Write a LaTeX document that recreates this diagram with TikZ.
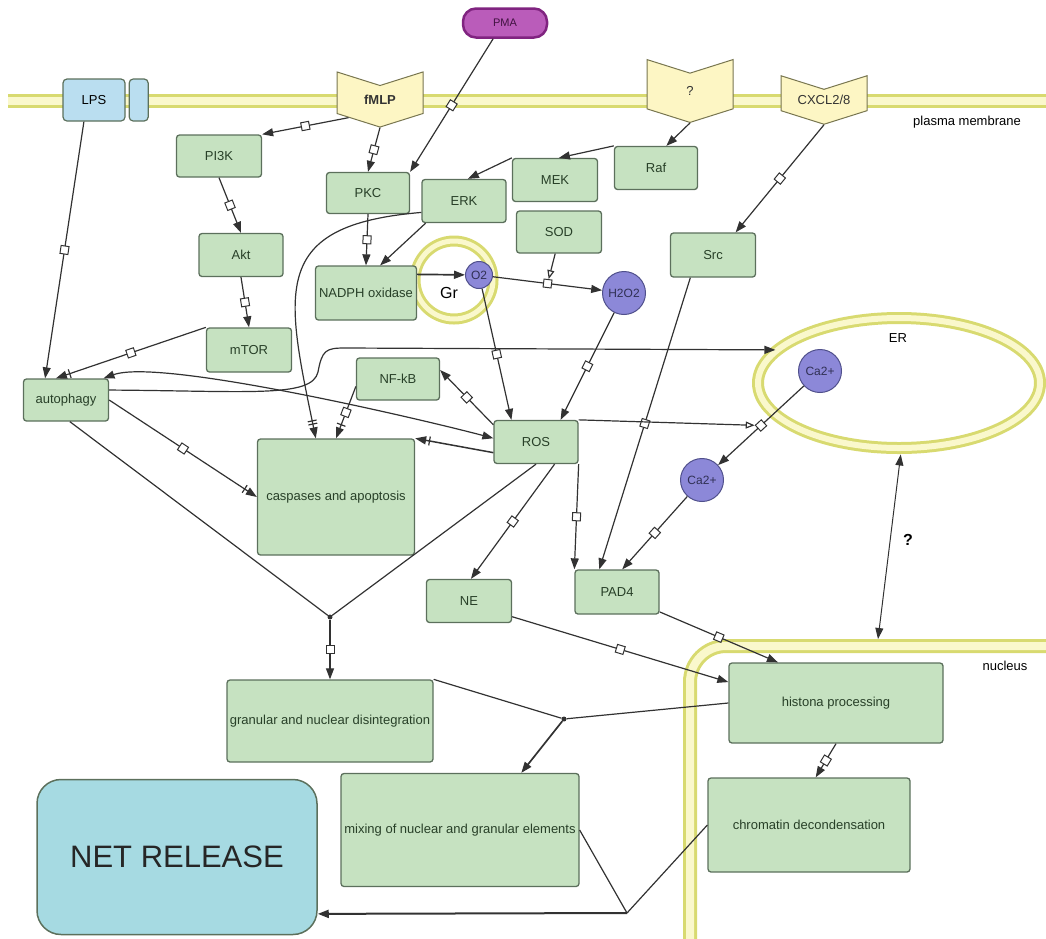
\documentclass[tikz,border=0pt]{standalone}
\usepackage{fontspec}
\setmainfont{Liberation Sans}
\usepackage{tikz}
\usetikzlibrary{positioning,arrows.meta,shapes.geometric,shapes.symbols}
\definecolor{boxgreen}{RGB}{198,226,193}
\definecolor{boxedge}{RGB}{92,112,92}
\definecolor{txtgreen}{RGB}{40,64,40}
\definecolor{ionblue}{RGB}{140,136,216}
\definecolor{ionedge}{RGB}{80,80,140}
\definecolor{rcpfill}{RGB}{253,246,196}
\definecolor{rcpedge}{RGB}{120,118,80}
\definecolor{lpsblue}{RGB}{186,222,240}
\definecolor{pmafill}{RGB}{186,92,186}
\definecolor{pmaedge}{RGB}{128,36,128}
\definecolor{netblue}{RGB}{166,218,226}
\definecolor{memedge}{RGB}{216,218,112}
\definecolor{memfill}{RGB}{250,248,204}
\definecolor{linegray}{RGB}{50,50,50}

\begin{document}
\begin{tikzpicture}[x=1pt, y=-1pt, font=\fontsize{13}{15}\selectfont,
  gbox/.style={rectangle, draw=boxedge, fill=boxgreen, rounded corners=3pt, line width=1.3pt, text=txtgreen, inner sep=1pt},
  ion/.style={circle, draw=ionedge, fill=ionblue, line width=1pt, inner sep=0pt, text=ionedge!60!black, font=\fontsize{12}{14}\selectfont},
  rcp/.style={signal, signal to=south, signal from=north, signal pointer angle=145, draw=rcpedge, fill=rcpfill, line width=1pt, minimum width=86pt, minimum height=38pt, inner sep=0pt, text=black!80},
  mem/.style={draw=memedge, double=memfill, double distance=8pt, line width=3pt},
  link/.style={draw=linegray, line width=1.2pt},
  conn/.style={link, -{Triangle[length=11pt,width=8pt]}},
  barr/.style={link, -{Bar[width=9pt,line width=1.2pt,sep=3pt] Triangle[length=11pt,width=8pt]}},
  barbar/.style={link, -{Bar[width=9pt,line width=1.2pt,sep=2pt] Bar[width=9pt,line width=1.2pt,sep=3pt] Triangle[length=11pt,width=8pt]}},
  cat/.style={link, -{Triangle[open,length=9pt,width=7pt,fill=white]}},
  both/.style={link, {Triangle[length=11pt,width=8pt]}-{Triangle[length=11pt,width=8pt]}},
  proc/.style={draw=linegray, fill=white, line width=1pt, minimum size=8pt, inner sep=0pt, sloped},
  dot/.style={circle, fill=linegray, minimum size=5pt, inner sep=0pt}]
  \useasboundingbox (0,0) rectangle (1046,938);

  % membranes and compartments
  \draw[mem] (8,101) -- (1046,101);
  \draw[mem, rounded corners=36pt] (690,945) |- (1046,646);
  \node[ellipse, mem, double distance=6pt, minimum width=282pt, minimum height=130pt] (ER) at (899,383) {};
  \node[circle, mem, double distance=5pt, minimum size=78pt] (Gr) at (454,280) {};
  \node (pmlabel) at (967,122) {plasma membrane};
  \node (nuclabel) at (1005,666) {nucleus};
  \node (erlabel) at (898,338) {ER};
  \node[font=\fontsize{16}{18}\selectfont] (grlabel) at (449,293) {Gr};
  \coordinate (nucmem) at (878,639);

  % receptors and stimuli
  \node[rectangle, draw=boxedge, fill=lpsblue, rounded corners=4pt, line width=1.2pt, minimum width=62pt, minimum height=42pt] (LPS) at (94,100) {LPS};
  \node[rectangle, draw=boxedge, fill=lpsblue, rounded corners=4pt, line width=1.2pt, minimum width=19pt, minimum height=42pt, right=3pt of LPS] (LPSb) {};
  \node[rcp, font=\fontsize{13}{15}\selectfont\bfseries] (fMLP) at (380,99.5) {fMLP};
  \node[rcp] (qrcp) at (690,91) {?};
  \node[rcp] (CXCL) at (824,100) {CXCL2/8};
  \node[draw=pmaedge, fill=pmafill, line width=2.5pt, rounded corners=13pt, minimum width=84pt, minimum height=29pt, text=pmaedge!50!black, font=\fontsize{11}{13}\selectfont] (PMA) at (505,23) {PMA};

  % signalling nodes
  \node[gbox, minimum width=85pt, minimum height=42pt] (PI3K) at (219,156) {PI3K};
  \node[gbox, minimum width=83pt, minimum height=41pt] (PKC) at (368,193) {PKC};
  \node[gbox, minimum width=84pt, minimum height=43pt] (ERK) at (464,201) {ERK};
  \node[gbox, minimum width=85pt, minimum height=43pt] (MEK) at (555,180) {MEK};
  \node[gbox, minimum width=83pt, minimum height=43pt] (Raf) at (656,168) {Raf};
  \node[gbox, minimum width=85pt, minimum height=42pt] (SOD) at (559,232) {SOD};
  \node[gbox, minimum width=84pt, minimum height=43pt] (Akt) at (241,255) {Akt};
  \node[gbox, minimum width=101pt, minimum height=54pt] (NADPH) at (366,293) {NADPH oxidase};
  \node[gbox, minimum width=85pt, minimum height=44pt] (mTOR) at (249,350) {mTOR};
  \node[gbox, minimum width=83pt, minimum height=42pt] (NFkB) at (398,379) {NF-kB};
  \node[gbox, minimum width=85pt, minimum height=42pt] (autophagy) at (66,400) {autophagy};
  \node[gbox, minimum width=84pt, minimum height=43pt] (ROS) at (536,442) {ROS};
  \node[gbox, minimum width=85pt, minimum height=44pt] (Src) at (713,255) {Src};
  \node[gbox, minimum width=157pt, minimum height=116pt] (caspases) at (336,497) {caspases and apoptosis};
  \node[gbox, minimum width=85pt, minimum height=43pt] (NE) at (469,601) {NE};
  \node[gbox, minimum width=84pt, minimum height=44pt] (PAD4) at (617,592) {PAD4};
  \node[gbox, minimum width=206pt, minimum height=82pt] (granular) at (330,721) {granular and nuclear disintegration};
  \node[gbox, minimum width=214pt, minimum height=80pt] (histone) at (836,703) {histona processing};
  \node[gbox, minimum width=202pt, minimum height=94pt] (chromatin) at (809,825) {chromatin decondensation};
  \node[gbox, minimum width=238pt, minimum height=113pt] (mixing) at (460,830) {mixing of nuclear and granular elements};
  \node[rectangle, draw=boxedge, fill=netblue, rounded corners=24pt, line width=1.5pt, minimum width=280pt, minimum height=155pt, text=black!85, font=\fontsize{31}{36}\selectfont] (NET) at (177,857) {NET RELEASE};

  % ions
  \node[ion, minimum size=27pt] (O2) at (479,275) {O2};
  \node[ion, minimum size=43pt] (H2O2) at (624,293) {H2O2};
  \node[ion, minimum size=43pt] (CaER) at (820,371) {Ca2+};
  \node[ion, minimum size=43pt] (Ca2) at (702,480) {Ca2+};
  \node[font=\fontsize{16}{18}\selectfont\bfseries] (qlabel) at (908,540) {?};

  % junctions
  \node[dot] (J1) at (330,617) {};
  \node[dot] (J2) at (564,719) {};
  \coordinate (J3) at (627,913);

  % connectors
  \draw[conn] (LPS.-115) -- node[proc]{} (autophagy.134);
  \draw[conn] (fMLP.-150) -- node[proc]{} (PI3K.north east);
  \draw[conn] (fMLP.south) -- node[proc]{} (PKC.north);
  \draw[conn] (PMA.-127) -- node[proc]{} (PKC.north east);
  \draw[conn] (qrcp.south) -- (Raf.65);
  \draw[conn] (CXCL.south) -- node[proc]{} (Src.45);
  \draw[conn] (Raf.north west) -- (MEK.80);
  \draw[conn] (MEK.north west) -- (ERK.80);
  \draw[conn] (PI3K.south) -- node[proc]{} (Akt.north);
  \draw[conn] (Akt.south) -- node[proc]{} (mTOR.north);
  \draw[conn] (PKC.south) -- node[proc]{} (NADPH.north);
  \draw[conn] (ERK.-150) -- (NADPH.63);
  \draw[barbar] (ERK.-165) .. controls (270,225) and (285,290) .. (caspases.109);
  \draw[conn, line width=1.7pt] (NADPH.20) -- (O2);
  \draw[conn] (O2) -- node[proc] (pSOD) {} (H2O2);
  \draw[cat] (SOD.-100) -- (pSOD);
  \draw[conn] (O2) -- node[proc]{} (ROS.138);
  \draw[conn] (H2O2) -- node[proc]{} (ROS.42);
  \draw[conn] (ROS.158) -- node[proc]{} (NFkB.12);
  \draw[barr] (NFkB.-170) -- node[proc]{} (caspases.north);
  \draw[barr, line width=1.5pt] (ROS.-166) -- (caspases.north east);
  \draw[barr] (mTOR.north west) -- node[proc]{} (autophagy.115);
  \draw[barr] (autophagy.east) -- node[proc]{} (caspases.west);
  \draw[conn] (autophagy.13) .. controls (250,391) and (312,398) .. (318,372) .. controls (322,350) and (326,348) .. (345,348) -- (ER.165);
  \draw[both] (autophagy.30) to[out=20, in=165, looseness=0.4] (ROS.175);
  \draw[conn] (Src.-135) -- node[proc]{} (PAD4.128);
  \draw[conn] (CaER) -- node[proc] (pCa) {} (Ca2);
  \draw[cat] (ROS.north east) -- (pCa);
  \draw[conn] (Ca2) -- node[proc]{} (PAD4.77);
  \draw[conn] (ROS.south east) -- node[proc]{} (PAD4.north west);
  \draw[conn] (ROS.-50) -- node[proc]{} (NE.85);
  \draw[link] (ROS.south) -- (J1);
  \draw[link] (autophagy.-80) -- (J1);
  \draw[conn] (J1) -- node[proc]{} (granular.north);
  \draw[conn] (NE.-20) -- node[proc]{} (histone.169);
  \draw[conn] (PAD4.-25) -- node[proc]{} (histone.145);
  \draw[both, line width=1pt, shorten >=5pt] (nucmem) -- (ER.-88);
  \draw[link] (histone.west) -- (J2);
  \draw[link] (granular.north east) -- (J2);
  \draw[conn, line width=1.7pt] (J2) -- (mixing.43);
  \draw[conn] (histone.south) -- node[proc]{} (chromatin.82);
  \draw[link] (mixing.east) -- (J3);
  \draw[link] (chromatin.west) -- (J3);
  \draw[conn, line width=2pt] (J3) -- (NET.-22);
\end{tikzpicture}
\end{document}
